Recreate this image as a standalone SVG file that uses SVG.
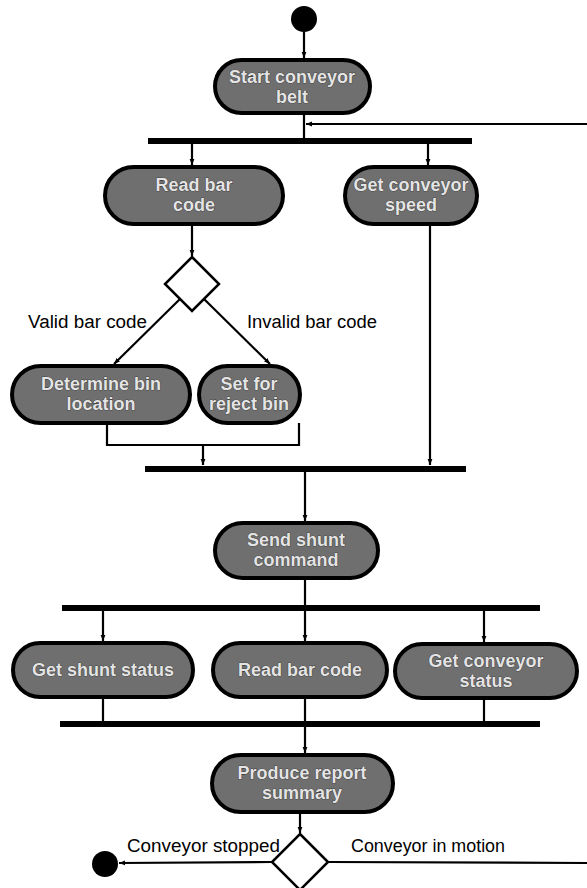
<svg xmlns="http://www.w3.org/2000/svg" width="587" height="888" viewBox="0 0 587 888">
<style>
.node rect{fill:#6f6f6f;stroke:#000;stroke-width:4}
.node text{font-family:"Liberation Sans",Arial,sans-serif;font-size:18px;font-weight:bold;fill:#e4e4e4;stroke:#222;stroke-width:0.7;paint-order:stroke;text-anchor:middle}
.bar{fill:#000}
.c line,.c polyline,.c path{stroke:#000;stroke-width:2.2;fill:none}
.lbl{font-family:"Liberation Sans",Arial,sans-serif;font-size:18px;fill:#000}
</style>
<defs>
<marker id="ah" viewBox="0 0 10 10" refX="10" refY="5" markerWidth="6" markerHeight="6" orient="auto" markerUnits="userSpaceOnUse">
<path d="M0,1 L10,5 L0,9 z" fill="#000"/>
</marker>
</defs>
<rect width="587" height="888" fill="#fff"/>

<g id="start"><circle cx="304" cy="19" r="13" fill="#000"/></g>

<g id="bars">
<rect id="fork1" class="bar" x="148" y="138" width="324" height="6"/>
<rect id="join2" class="bar" x="145" y="466" width="321" height="6"/>
<rect id="fork3" class="bar" x="62" y="605" width="478" height="6"/>
<rect id="join4" class="bar" x="60" y="721" width="480" height="6"/>
</g>

<g class="c" id="connectors">
<line x1="304" y1="32" x2="304" y2="58" marker-end="url(#ah)"/>
<line x1="304" y1="113" x2="304" y2="138"/>
<line x1="587" y1="124" x2="306" y2="124" marker-end="url(#ah)"/>
<line x1="192" y1="144" x2="192" y2="165" marker-end="url(#ah)"/>
<line x1="428" y1="144" x2="428" y2="165" marker-end="url(#ah)"/>
<line x1="192" y1="224" x2="192" y2="256" marker-end="url(#ah)"/>
<line x1="180" y1="299" x2="114" y2="364" marker-end="url(#ah)"/>
<line x1="204" y1="299" x2="270" y2="364" marker-end="url(#ah)"/>
<polyline points="107,423 107,445 299,445 299,423"/>
<line x1="203" y1="445" x2="203" y2="465" marker-end="url(#ah)"/>
<line x1="430" y1="224" x2="430" y2="465" marker-end="url(#ah)"/>
<line x1="305" y1="472" x2="305" y2="521" marker-end="url(#ah)"/>
<line x1="305" y1="578" x2="305" y2="605"/>
<line x1="103" y1="611" x2="103" y2="641" marker-end="url(#ah)"/>
<line x1="305" y1="611" x2="305" y2="641" marker-end="url(#ah)"/>
<line x1="484" y1="611" x2="484" y2="642" marker-end="url(#ah)"/>
<line x1="103" y1="697" x2="103" y2="721"/>
<line x1="305" y1="697" x2="305" y2="721"/>
<line x1="484" y1="698" x2="484" y2="721"/>
<line x1="305" y1="727" x2="305" y2="753" marker-end="url(#ah)"/>
<line x1="300" y1="812" x2="300" y2="833" marker-end="url(#ah)"/>
<line x1="272" y1="862" x2="119" y2="863" marker-end="url(#ah)"/>
<line x1="328" y1="862" x2="587" y2="863"/>
</g>

<g id="decision1"><path d="M192,257 L219,284 L192,311 L165,284 Z" fill="#fff" stroke="#000" stroke-width="2.5"/></g>
<g id="decision2"><path d="M300,834 L328,862 L300,890 L272,862 Z" fill="#fff" stroke="#000" stroke-width="2.5"/></g>

<g id="n1" class="node"><rect x="215" y="60" width="155" height="53" rx="26.5"/><text x="292" y="83">Start conveyor</text><text x="292" y="103">belt</text></g>
<g id="n2" class="node"><rect x="105" y="167" width="178" height="57" rx="28.5"/><text x="194" y="191">Read bar</text><text x="194" y="211">code</text></g>
<g id="n3" class="node"><rect x="345" y="167" width="132" height="57" rx="28.5"/><text x="411" y="191">Get conveyor</text><text x="411" y="211">speed</text></g>
<g id="n4" class="node"><rect x="12" y="366" width="178" height="57" rx="28.5"/><text x="101" y="390">Determine bin</text><text x="101" y="410">location</text></g>
<g id="n5" class="node"><rect x="199" y="366" width="101" height="57" rx="28.5"/><text x="249" y="390">Set for</text><text x="249" y="410">reject bin</text></g>
<g id="n6" class="node"><rect x="215" y="523" width="163" height="55" rx="27.5"/><text x="296" y="546">Send shunt</text><text x="296" y="566">command</text></g>
<g id="n7" class="node"><rect x="13" y="643" width="180" height="54" rx="27"/><text x="103" y="676">Get shunt status</text></g>
<g id="n8" class="node"><rect x="213" y="643" width="174" height="54" rx="27"/><text x="300" y="676">Read bar code</text></g>
<g id="n9" class="node"><rect x="395" y="644" width="182" height="54" rx="27"/><text x="486" y="667">Get conveyor</text><text x="486" y="687">status</text></g>
<g id="n10" class="node"><rect x="212" y="755" width="181" height="57" rx="28.5"/><text x="302" y="779">Produce report</text><text x="302" y="799">summary</text></g>

<g id="end"><circle cx="105" cy="864" r="13" fill="#000"/></g>

<g id="labels">
<text class="lbl" x="28" y="328" textLength="119" lengthAdjust="spacingAndGlyphs">Valid bar code</text>
<text class="lbl" x="247" y="328" textLength="130" lengthAdjust="spacingAndGlyphs">Invalid bar code</text>
<text class="lbl" x="127" y="852" textLength="153" lengthAdjust="spacingAndGlyphs">Conveyor stopped</text>
<text class="lbl" x="351" y="852" textLength="154" lengthAdjust="spacingAndGlyphs">Conveyor in motion</text>
</g>
</svg>
